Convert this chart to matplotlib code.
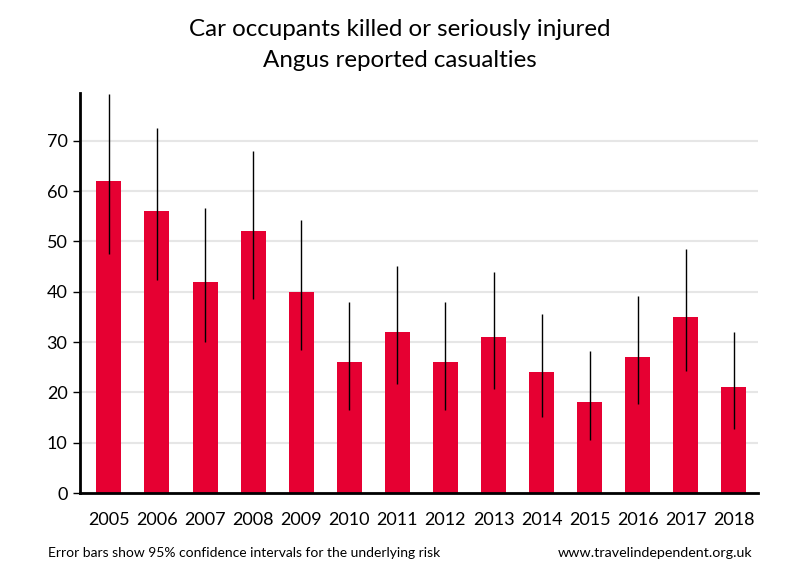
import matplotlib
matplotlib.use("Agg")
import matplotlib.pyplot as plt
import numpy as np

years = ["2005", "2006", "2007", "2008", "2009", "2010", "2011", "2012",
         "2013", "2014", "2015", "2016", "2017", "2018"]
values = [62, 56, 42, 52, 40, 26, 32, 26, 31, 24, 18, 27, 35, 21]
upper = [79.3, 72.5, 56.7, 68.0, 54.3, 38.0, 45.1, 38.0, 43.9, 35.5, 28.2, 39.2, 48.5, 32.0]
lower = [47.5, 42.3, 30.0, 38.6, 28.4, 16.5, 21.7, 16.5, 20.7, 15.2, 10.5, 17.6, 24.3, 12.8]
yticks = [0, 10, 20, 30, 40, 50, 60, 70]

plt.rcParams['font.family'] = ['Lato', 'DejaVu Sans']

fig = plt.figure(figsize=(8, 5.8), dpi=100)
ax = fig.add_axes([0.1, 0.15, 0.8475, 0.6897])

x = np.arange(len(years))
ax.bar(x, values, width=0.52, color="#e60032", zorder=2)
ax.vlines(x, lower, upper, color="black", linewidth=1.0, zorder=3)

ax.set_xlim(-0.6, len(years) - 0.5)
ax.set_ylim(0, 79.5)
ax.set_yticks(yticks)
ax.set_xticks(x)
ax.set_xticklabels(years)
ax.yaxis.grid(True, color="#e6e6e6", linewidth=1.5, zorder=0)
ax.set_axisbelow(True)
for s in ["top", "right"]:
    ax.spines[s].set_visible(False)
ax.spines["left"].set_linewidth(2)
ax.spines["bottom"].set_linewidth(2)
ax.tick_params(axis="y", length=5, width=1, labelsize=13, colors="black", pad=4)
ax.tick_params(axis="x", length=0, labelsize=13, pad=14)

fig.text(0.5, 0.95, "Car occupants killed or seriously injured", ha="center", va="center", fontsize=17.4)
fig.text(0.5, 0.895, "Angus reported casualties", ha="center", va="center", fontsize=17.4)
fig.text(0.06, 0.047, "Error bars show 95% confidence intervals for the underlying risk", ha="left", va="center", fontsize=10)
fig.text(0.94, 0.047, "www.travelindependent.org.uk", ha="right", va="center", fontsize=10.3)

fig.savefig("out.png", dpi=100)
